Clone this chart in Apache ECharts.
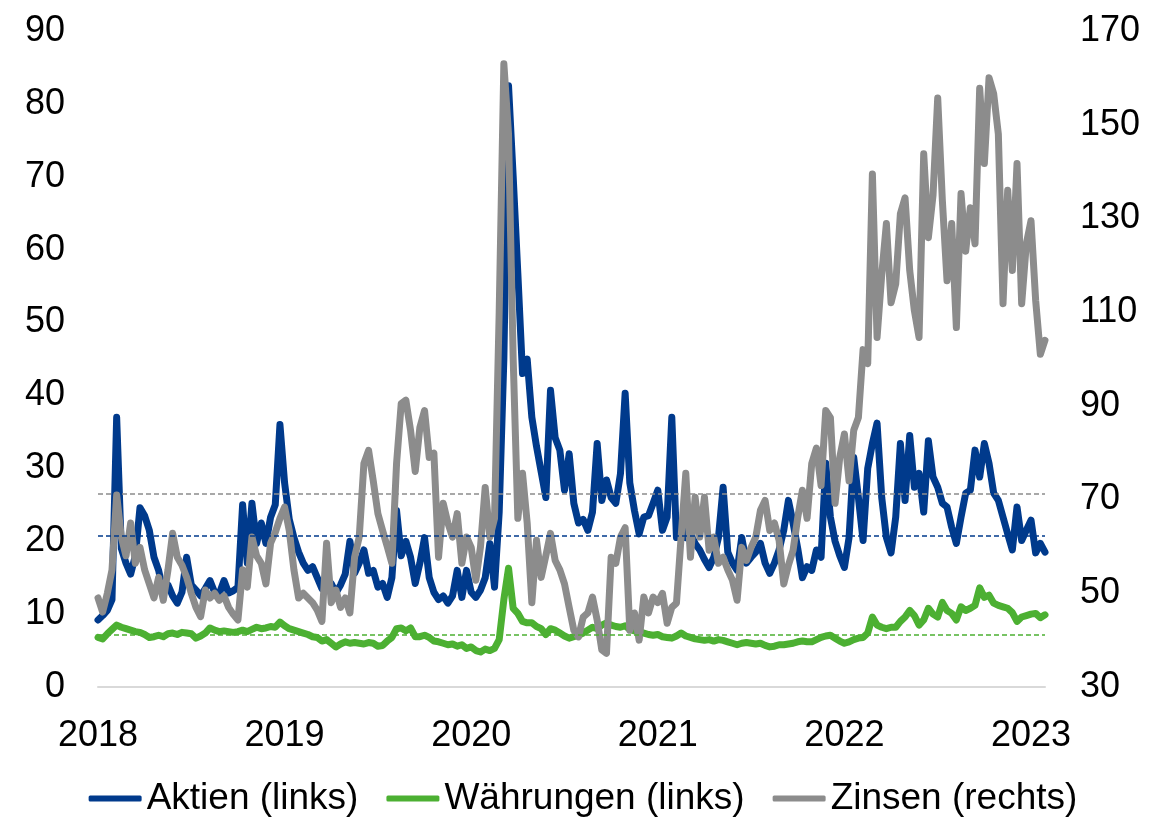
<!DOCTYPE html>
<html>
<head>
<meta charset="utf-8">
<script src="https://cdn.jsdelivr.net/npm/echarts@6/dist/echarts.min.js"></script>
<style>
  html, body { margin: 0; padding: 0; background: #fff; }
  #chart { width: 1166px; height: 822px; }
</style>
</head>
<body>
<div id="chart"></div>
<script>
// Zeitachse: Start 2018, ein Wert ca. alle 9 Tage
var startYear = 2018;
var stepYear = 0.025;
var yearTicks = [2018, 2019, 2020, 2021, 2022, 2023];

// Aktien (linke Achse)
var aktien = [
  9.2, 9.8, 10.5, 12, 37, 19, 17, 15.5, 18, 24.6,
  23.5, 21.5, 17.8, 16, 13, 14, 12.5, 11.5, 13, 17.8,
  14, 13.3, 12.5, 13.5, 14.6, 13, 12.8, 14.6, 12.9, 13.2,
  13.7, 25, 17, 25.2, 19.7, 22.5, 19.7, 23.3, 25, 36,
  28, 23, 20.5, 18.5, 17, 16, 16.5, 15, 13.5, 14,
  14.2, 12.9, 14, 15.5, 20, 15.6, 17, 18.8, 15.6, 16,
  13.7, 14.2, 12.3, 15, 24.2, 18, 20, 17.8, 14.2, 17,
  20.5, 15, 13, 12, 12.5, 11.5, 12.5, 16, 12.3, 16,
  13, 12.3, 13.3, 15, 19.7, 13.7, 24, 45, 82.5, 70,
  56.7, 43, 45, 37, 33, 29.5, 26, 40.7, 34.2, 32.5,
  27, 32, 25.2, 22.5, 23, 21.5, 24, 33.4, 25.6, 28.4,
  26, 25.2, 29.3, 40.3, 28, 24.2, 21, 23.3, 23.5, 25.2,
  27, 21.5, 23.3, 37, 20.5, 22.5, 20.5, 21, 19.7, 18.8,
  17.5, 16.4, 17.8, 20.5, 27.4, 18.5, 17, 16, 20.5, 17,
  17.8, 18.5, 19.7, 17, 15.6, 17, 18.8, 21.5, 25.6, 22.5,
  19, 15, 16.5, 16, 18.8, 17.8, 30.7, 23.3, 20, 18,
  16.4, 20.5, 31.5, 26, 20.1, 30, 33.4, 36.2, 26, 20.5,
  18.4, 23.3, 33.4, 25.6, 34.5, 27.4, 29.3, 24, 33.8, 28.8,
  27.4, 25.2, 24.7, 21.9, 19.7, 23.3, 26.6, 27, 32.5, 28.8,
  33.4, 30.7, 26.6, 25.6, 23.3, 21, 18.8, 24.7, 20.1, 21.5,
  22.9, 18.4, 19.7, 18.5
];

// Währungen (linke Achse)
var waehrungen = [
  6.8, 6.6, 7.3, 7.9, 8.5, 8.2, 8.0, 7.8, 7.6, 7.5,
  7.2, 6.8, 6.9, 7.1, 6.9, 7.3, 7.4, 7.2, 7.5, 7.4,
  7.3, 6.7, 7.0, 7.4, 8.1, 7.8, 7.6, 7.7, 7.6, 7.5,
  7.6, 7.8, 7.6, 7.9, 8.2, 8.0, 8.1, 8.3, 8.2, 8.9,
  8.4, 8.0, 7.8, 7.6, 7.4, 7.2, 6.9, 6.8, 6.3, 6.5,
  6.0, 5.5, 5.9, 6.2, 6.0, 6.1, 6.0, 5.9, 6.1, 6.0,
  5.6, 5.7, 6.3, 6.8, 8.0, 8.1, 7.7, 8.1, 6.9, 6.9,
  7.1, 6.8, 6.3, 6.2, 6.0, 5.8, 5.9, 5.6, 5.8, 5.3,
  5.5, 5.0, 4.8, 5.2, 5.0, 5.3, 6.5, 12.0, 16.3, 10.8,
  10.1, 9.0, 8.8, 8.8, 8.3, 8.0, 7.2, 8.0, 7.8, 7.4,
  7.0, 6.7, 6.9, 7.1, 7.4, 7.8, 8.2, 8.0, 8.5, 8.8,
  8.5, 8.3, 8.2, 8.4, 7.9, 7.7, 7.6, 7.4, 7.2, 7.1,
  7.2, 6.9, 6.8, 6.7, 7.0, 7.4, 7.0, 6.8, 6.6, 6.5,
  6.4, 6.5, 6.3, 6.5, 6.4, 6.2, 6.0, 5.8, 6.0, 6.1,
  6.0, 5.9, 6.0, 5.7, 5.5, 5.6, 5.8, 5.8, 5.9, 6.0,
  6.2, 6.3, 6.2, 6.2, 6.5, 6.8, 7.0, 7.1, 6.7, 6.3,
  6.0, 6.2, 6.5, 6.7, 6.8, 7.4, 9.6, 8.5, 8.2, 8.0,
  8.2, 8.2, 9.0, 9.6, 10.5, 9.8, 8.5, 9.2, 10.8, 10.0,
  9.6, 11.6, 10.5, 10.1, 9.2, 11.0, 10.5, 10.8, 11.2, 13.6,
  12.3, 12.6, 11.5, 11.2, 11.0, 10.8, 10.2, 9.0, 9.6, 9.8,
  10.0, 10.1, 9.5, 9.9
];

// Zinsen (rechte Achse)
var zinsen = [
  49, 46, 50, 55, 71, 62, 58, 65, 56.4, 59.8,
  55, 52, 49, 53.4, 48.5, 55, 62.8, 57.7, 56, 53.4,
  50, 47, 45, 50.7, 49, 50, 48.5, 49.5, 47, 45.5,
  44.3, 55, 51.3, 62, 58, 56.4, 52, 60.7, 63, 66,
  68.4, 63.4, 55, 49, 50, 49, 48, 46.4, 44, 60.7,
  48, 50.7, 47, 49, 45.8, 57.7, 62, 77.7, 80.5, 74,
  67, 63.4, 60, 56.4, 77.7, 90.5, 91.2, 84.8, 76, 85.4,
  89, 79, 79.9, 57.7, 69.2, 65, 62, 67, 56.4, 62,
  59.8, 52.8, 60, 72.6, 62, 66, 110, 163, 148, 100,
  66, 75.6, 65, 48, 61.3, 53.4, 58, 62.8, 57, 55,
  52, 47, 42.1, 40.7, 44.9, 45.8, 49.2, 44.3, 37.9, 37.2,
  57.7, 56.4, 62, 64, 42.1, 45.8, 40, 49.2, 45.8, 49.2,
  48, 50, 43.6, 47, 47.9, 62, 75.6, 57.7, 70.5, 62,
  70.5, 59.2, 62, 56.4, 57.7, 55, 52.8, 48.5, 59.8, 57,
  59.8, 62, 67.7, 69.8, 63.4, 65, 61.3, 52, 56, 59.2,
  66.2, 72, 66, 77.7, 81, 73, 89, 87.5, 69.2, 79,
  84, 74, 84.8, 87.5, 102, 99, 139.5, 104.6, 118, 128.9,
  112, 116, 131, 134.4, 118.9, 110.3, 104.6, 143.8, 125.9, 135,
  155.7, 133.8, 116.7, 128.9, 106.7, 135.3, 123, 132.3, 124.6, 157.8,
  141.7, 160, 156.6, 148, 111.8, 136, 118.9, 141.7, 111.8, 124.6,
  129.5, 112.5, 101, 104
];

// Durchschnittslinien
var avgAktien = 20.8;
var avgWaehrungen = 7.1;
var avgZinsen = 71.3;

var seriesNames = ['Aktien (links)', 'Währungen (links)', 'Zinsen (rechts)'];
var colors = ['#003a8c', '#4cb032', '#8c8c8c'];

function toPairs(arr) {
  return arr.map(function(v, i) {
    return [startYear + i * stepYear, v];
  });
}

var chart = echarts.init(document.getElementById('chart'));
var font = 'Liberation Sans, Arial, sans-serif';
var xMax = startYear + (aktien.length - 1) * stepYear;

function lineSeries(name, data, yIndex, color, avg) {
  return {
    name: name,
    type: 'line',
    yAxisIndex: yIndex,
    data: toPairs(data),
    symbol: 'none',
    showSymbol: false,
    animation: false,
    lineStyle: { color: color, width: 7, cap: 'round', join: 'round' },
    itemStyle: { color: color },
    markLine: {
      silent: true,
      symbol: 'none',
      label: { show: false },
      lineStyle: { color: color, width: 1.5, type: [5, 3] },
      data: [{ yAxis: avg }]
    }
  };
}

var option = {
  backgroundColor: '#ffffff',
  animation: false,
  grid: {
    left: 98,
    right: 121,
    top: 31,
    bottom: 135
  },
  legend: {
    bottom: 0,
    left: 'center',
    itemWidth: 53,
    itemHeight: 6,
    itemGap: 28,
    icon: 'roundRect',
    textStyle: { fontFamily: font, fontSize: 37, color: '#000' },
    data: seriesNames
  },
  xAxis: {
    type: 'value',
    min: startYear,
    max: xMax,
    interval: 1,
    splitLine: { show: false },
    axisTick: { show: false },
    axisLine: { show: true, onZero: false, lineStyle: { color: '#d9d9d9', width: 2 } },
    axisLabel: {
      fontFamily: font,
      fontSize: 36,
      color: '#000',
      margin: 31,
      formatter: function(v) {
        return yearTicks.indexOf(v) >= 0 ? String(v) : '';
      }
    }
  },
  yAxis: [
    {
      type: 'value',
      min: 0,
      max: 90,
      interval: 10,
      splitLine: { show: false },
      axisLine: { show: false },
      axisTick: { show: false },
      axisLabel: { fontFamily: font, fontSize: 36, color: '#000', margin: 33 }
    },
    {
      type: 'value',
      min: 30,
      max: 170,
      interval: 20,
      splitLine: { show: false },
      axisLine: { show: false },
      axisTick: { show: false },
      axisLabel: { fontFamily: font, fontSize: 36, color: '#000', margin: 35 }
    }
  ],
  series: [
    lineSeries(seriesNames[0], aktien, 0, colors[0], avgAktien),
    lineSeries(seriesNames[1], waehrungen, 0, colors[1], avgWaehrungen),
    lineSeries(seriesNames[2], zinsen, 1, colors[2], avgZinsen)
  ]
};

chart.setOption(option);
</script>
</body>
</html>
